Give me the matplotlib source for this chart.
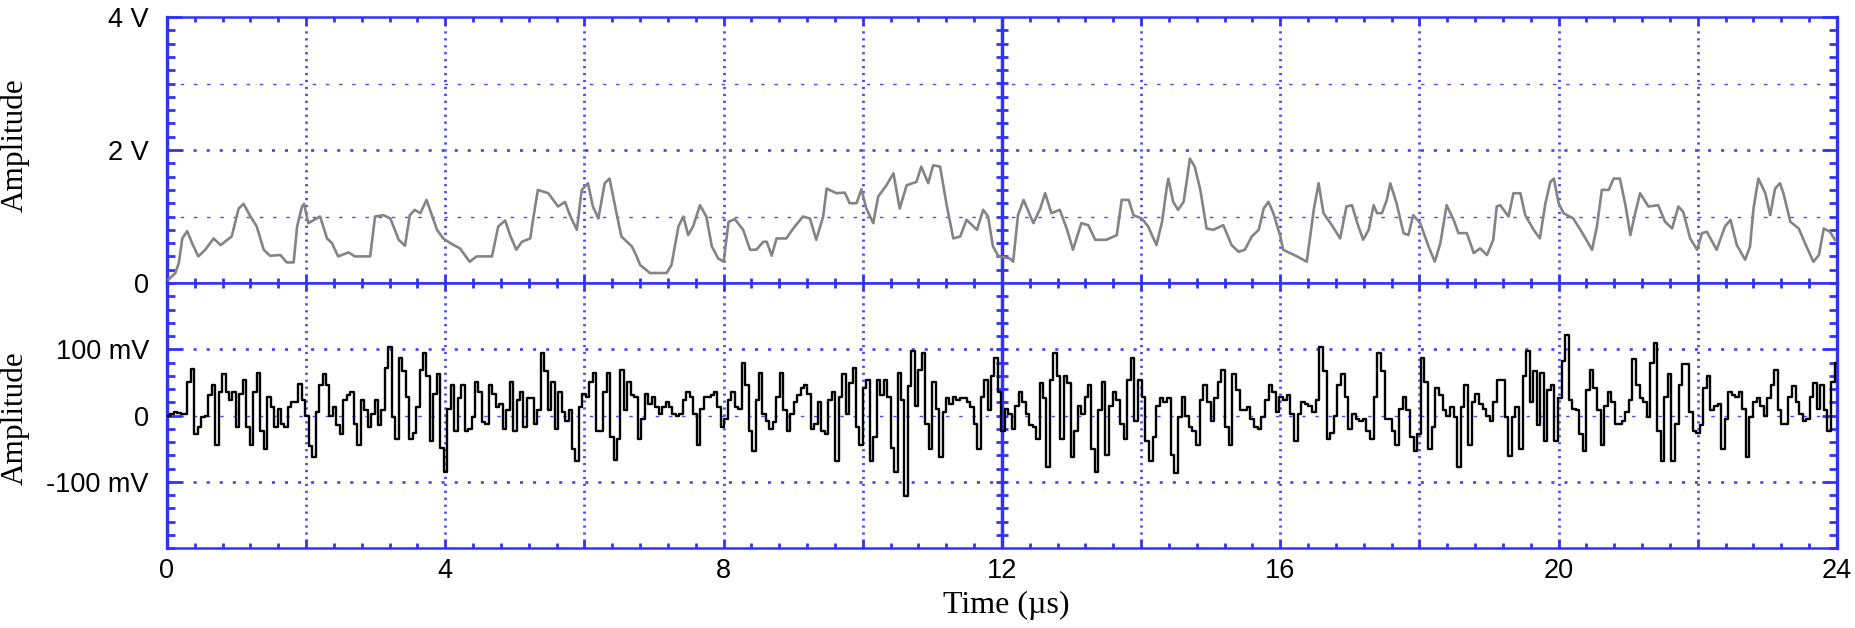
import numpy as np
import matplotlib.pyplot as plt
from matplotlib.ticker import FixedLocator, FixedFormatter, MultipleLocator, FuncFormatter

# ---- upper trace (V) ----
t_top = [0.02, 0.12, 0.17, 0.22, 0.29, 0.36, 0.45, 0.55, 0.67, 0.77, 0.93, 1.03, 1.10, 1.20, 1.29,
         1.39, 1.48, 1.63, 1.72, 1.82, 1.87, 1.94, 1.97, 2.03, 2.20, 2.30, 2.37, 2.46, 2.61, 2.70,
         2.92, 2.99, 3.11, 3.21, 3.33, 3.42, 3.49, 3.56, 3.64, 3.73, 3.88, 3.97, 4.07, 4.21, 4.35,
         4.45, 4.67, 4.76, 4.86, 4.93, 5.02, 5.10, 5.22, 5.26, 5.33, 5.48, 5.62, 5.72, 5.79, 5.89,
         5.96, 6.05, 6.12, 6.20, 6.29, 6.36,
         6.46, 6.53, 6.68, 6.75, 6.80, 6.94, 7.18, 7.25, 7.35, 7.42, 7.49, 7.56, 7.66, 7.75, 7.83,
         7.92, 8.00, 8.07, 8.16, 8.28, 8.38, 8.47, 8.57, 8.62, 8.69, 8.76, 8.90, 9.00, 9.14, 9.24,
         9.33, 9.43, 9.48, 9.62, 9.74, 9.81, 9.91, 9.98, 10.05, 10.15, 10.22, 10.34, 10.44, 10.53,
         10.63, 10.77, 10.84, 10.94, 11.01, 11.11, 11.20, 11.30, 11.40, 11.49, 11.64, 11.73, 11.80,
         11.87, 11.95, 12.11, 12.16, 12.23, 12.31, 12.45, 12.55, 12.62, 12.71, 12.83, 12.93, 13.02,
         13.14, 13.24, 13.34,
         13.50, 13.65, 13.72, 13.82, 13.89, 14.01, 14.10, 14.22, 14.30, 14.37, 14.39, 14.46, 14.53,
         14.61, 14.65, 14.70, 14.77, 14.85, 14.94, 15.04, 15.18, 15.30, 15.40, 15.49, 15.59, 15.69,
         15.76, 15.83, 15.90, 16.00, 16.04, 16.24, 16.38, 16.48, 16.55, 16.62, 16.74, 16.86, 16.95,
         17.03, 17.10, 17.19, 17.27, 17.34, 17.39, 17.46, 17.53, 17.58, 17.67, 17.77, 17.84, 17.91,
         18.01, 18.13, 18.22, 18.30, 18.39, 18.49, 18.56, 18.68, 18.78, 18.87, 18.97, 19.06, 19.11,
         19.16,
         19.28, 19.35, 19.45, 19.52, 19.64, 19.73, 19.81, 19.88, 19.93, 20.00, 20.07, 20.21, 20.33,
         20.48, 20.55, 20.62, 20.72, 20.79, 20.88, 20.96, 21.03, 21.10, 21.17, 21.29, 21.43, 21.53,
         21.63, 21.72, 21.79, 21.89, 21.99, 22.06, 22.13, 22.27, 22.39, 22.47, 22.56, 22.68, 22.75,
         22.80, 22.87, 22.97, 23.04, 23.11, 23.18, 23.23, 23.33, 23.45, 23.54, 23.66, 23.74, 23.81,
         23.90, 23.97]
v_top = [0.05, 0.15, 0.30, 0.67, 0.78, 0.60, 0.40, 0.50, 0.67, 0.57, 0.70, 1.12, 1.19, 1.00, 0.85,
         0.50, 0.41, 0.42, 0.31, 0.31, 0.85, 1.15, 1.19, 0.90, 1.00, 0.67, 0.60, 0.40, 0.46, 0.40,
         0.40, 1.00, 1.02, 0.97, 0.65, 0.56, 1.02, 1.10, 1.05, 1.25, 0.80, 0.67, 0.60, 0.52, 0.32,
         0.40, 0.40, 0.85, 0.94, 0.72, 0.50, 0.62, 0.67, 0.95, 1.40, 1.35, 1.15, 1.22, 1.02, 0.80,
         1.40, 1.50, 1.15, 0.97, 1.50, 1.57,
         1.05, 0.70, 0.55, 0.40, 0.27, 0.15, 0.15, 0.27, 0.85, 1.00, 0.72, 0.85, 1.17, 1.00, 0.55,
         0.37, 0.32, 0.92, 0.96, 0.80, 0.50, 0.50, 0.62, 0.62, 0.41, 0.67, 0.67, 0.82, 1.00, 0.97,
         0.65, 1.00, 1.42, 1.35, 1.36, 1.20, 1.20, 1.41, 1.12, 0.90, 1.30, 1.47, 1.65, 1.12,
         1.47, 1.52, 1.75, 1.50, 1.77, 1.75, 1.20, 0.67, 0.70, 0.95, 0.80, 1.10, 1.00,
         0.55, 0.40, 0.37, 0.32, 1.02, 1.25, 0.90, 1.12, 1.35, 1.05, 1.10, 0.82, 0.50,
         0.90, 0.87, 0.65,
         0.65, 0.72, 1.25, 1.25, 1.02, 0.97, 0.85, 0.57, 0.92, 1.45, 1.57, 1.22, 1.10,
         1.22, 1.50, 1.87, 1.75, 1.40, 0.82, 0.80, 0.87, 0.57, 0.47, 0.50, 0.70, 0.80,
         1.12, 1.22, 1.05, 0.70, 0.50, 0.40, 0.32, 1.10, 1.50, 1.05, 0.87, 0.67, 1.15,
         1.17, 0.92, 0.65, 0.80, 1.17, 1.05, 1.05, 1.25, 1.50, 1.20, 0.75, 0.72, 1.02,
         0.90, 0.55, 0.32, 0.60, 1.17, 0.95, 0.75, 0.75, 0.45, 0.52, 0.42, 0.65, 1.15,
         1.17,
         1.00, 1.35, 1.35, 1.02, 0.80, 0.67, 1.20, 1.52, 1.57, 1.20, 1.05, 0.97, 0.77,
         0.50, 0.85, 1.40, 1.40, 1.57, 1.57, 1.17, 0.72, 1.05, 1.35, 1.15, 1.17, 0.92,
         0.82, 1.15, 1.07, 0.67, 0.50, 0.75, 0.77, 0.50, 0.85, 0.95, 0.57, 0.35, 0.55,
         1.12, 1.57, 1.35, 1.02, 1.42, 1.50, 1.35, 0.92, 0.82, 0.60, 0.32, 0.42, 0.82,
         0.77, 0.65]

# ---- lower trace (mV): four stretches of evenly clocked samples ----
seg_span = [(0.02, 6.94), (6.99, 13.41), (13.46, 19.14), (19.20, 23.99)]
mv_1 = [0, 3, 5, 4, 2, 2, 51, 70, -28, -18, -3, 0, 31, 46, -44, 36, 62, 36, 23, 36, -18, 33, 54,
        -18, -44, 36, 64, -23, -51, 28, 13, -18, 10, -13, -18, 13, 21, 21, 48, 23, 0, -46, -62, 5,
        46, 62, 46, 0, 13, -15, -28, 23, 31, 36, -13, -44, 23, 8, -18, 3, 23, -15, 8, 72, 103, -3,
        -36, 87, 67, 28, -36, -26, 13, 69, 95, 59, -38, 33, 62, -49, -85, 10, 46, -23, 26, 46, -23,
        -21, -3, 51, 36, -10, -13, 46, 33, 13, 18, -21, 8, 51, -23, 23, 36, -18, 26, 26, -13, 8, 95,
        67, 8, 51, -21, 36, 5, -8, 8, -51, -69, 13, 33, 28, 51, 64, -23, -23, 36, 64, -33, -67, -36,
        69, 8, 51, 31, 28, -36, -5, 33, 18]
mv_2 = [28, 13, 3, 13, 21, 13, 3, 0, 3, 23, 36, 28, 3, -44, 10, 28, 28, 31, 36, 13, -18, -5, 23, 36,
        13, 10, 79, 46, -23, -54, 23, 64, 3, -8, -21, -10, 28, 64, 8, -23, 3, 21, 31, 41, 46, 33,
        -21, -13, 21, -23, -28, 23, 36, -69, 28, 62, 3, 49, 72, -18, -44, 41, 54, -69, -33, 54, 31,
        54, 28, -49, -85, 64, 23, -121, 44, 97, 15, 69, 95, -13, -51, 51, 10, -62, 5, 26, 18, 28,
        23, 26, 26, 21, 13, -13, -51, 28, 54, 8, 59, 87, 36, -23, 10, 3, -21, 15, 36, 21, 3, -15,
        -18, -36, 49, 26, -77, 54, 95, 59, -36, 59, 49, -62, -23, 15, 3, 28, 46, -51, -85, 8]
mv_3 = [51, -59, 15, 36, 23, -13, -36, 54, 87, -8, 54, 28, -38, -69, -33, 15, 26, 21, 26, -59, -87,
        -3, 28, 0, -18, -23, -44, 23, 46, 21, -8, 26, 51, 69, -18, -44, 62, 38, 8, 8, 13, -5, -18,
        -21, -3, 23, 46, 36, 5, 28, 23, 31, 3, -38, 3, 21, 18, 15, 5, 23, 103, 67, -36, -26, 0, 46,
        62, 28, -21, 3, -5, -8, -5, -23, -36, 28, 95, 67, -5, -5, -23, -44, 10, 28, 8, -33, -54,
        -28, 87, 51, -51, -18, 41, 31, 8, 0, 13, -3, -77, 13, 46, -44, 21, 33, 18, 10, 0, -8, 21, 54]
mv_4 = [54, -3, -61, -3, 13, -51, 59, 97, 21, 67, -15, 64, -38, 38, 46, -38, 26, 82, 121, 23, 10, 8,
        -28, -54, 38, 69, 41, 8, -44, 15, 36, 21, -13, -13, -8, 5, 23, 85, 46, 26, 21, -3, 79, 110,
        -23, -69, 28, 62, -69, -13, 46, 77, 77, 5, -23, -26, -15, 41, 59, 8, 15, 18, -51, -5, 36,
        31, 28, 36, 10, -62, -3, 21, 26, 15, 0, 26, 46, 69, 8, -13, -13, 28, 44, 21, 3, -8, -5, 28,
        49, 10, 46, 8, -23, 51, 79]

x_labels = {0: '0', 4: '4', 8: '8', 12: '12', 16: '16', 20: '20', 24: '24'}

BLUE = '#3232ff'
GRID = '#4a4aff'
SANS = 'Liberation Sans'
SERIF = 'Liberation Serif'

t_bot = np.concatenate([np.linspace(a, b, len(m)) for (a, b), m in
                        zip(seg_span, [mv_1, mv_2, mv_3, mv_4])])
v_bot = np.concatenate([mv_1, mv_2, mv_3, mv_4])

W, H = 1856, 628
L, R = 167, 1837
Y0, Y1, Y2 = 17, 283, 548

fig = plt.figure(figsize=(W / 100, H / 100), dpi=100)
ax1 = fig.add_axes([L / W, 1 - Y1 / H, (R - L) / W, (Y1 - Y0) / H])
ax2 = fig.add_axes([L / W, 1 - Y2 / H, (R - L) / W, (Y2 - Y1) / H])


def dress(ax, lo, hi, minor, major, labels, heavy, light):
    ax.set_xlim(0, 24)
    ax.set_ylim(lo, hi)
    for side, sp in ax.spines.items():
        sp.set_color(BLUE)
        sp.set_linewidth(2.4 if side in ('left', 'right') else 1.8)
    ax.xaxis.set_major_locator(MultipleLocator(2))
    ax.xaxis.set_minor_locator(MultipleLocator(0.4))
    ax.tick_params(axis='x', which='both', direction='in', top=True, bottom=True,
                   color=BLUE, width=2)
    ax.tick_params(axis='x', which='major', length=6)
    ax.tick_params(axis='x', which='minor', length=3.5)
    ax.yaxis.set_major_locator(FixedLocator(major))
    ax.yaxis.set_major_formatter(FixedFormatter(labels))
    ax.yaxis.set_minor_locator(MultipleLocator(minor))
    ax.tick_params(axis='y', which='both', direction='in', left=True, right=True,
                   color=BLUE, width=2, labelsize=19.5, pad=13)
    ax.tick_params(axis='y', which='major', length=11)
    ax.tick_params(axis='y', which='minor', length=6)
    for lab in ax.get_yticklabels():
        lab.set_family(SANS)

    # screen graticule
    for y in heavy:
        ax.axhline(y, color=GRID, lw=2, dashes=(1.1, 3.6), zorder=1)
    for y in light:
        ax.axhline(y, color=GRID, lw=1, dashes=(2.5, 7), zorder=1)
    for x in np.arange(2, 24, 2):
        if x != 12:
            ax.axvline(x, color=GRID, lw=2, dashes=(0.8, 1.7), zorder=1)
    ax.axvline(12, color=BLUE, lw=2.5, zorder=2)
    ys = np.arange(lo + minor, hi, minor)
    ax.plot(np.full(len(ys), 12.0), ys, ls='none', marker='_', ms=9, mew=2,
            color=BLUE, zorder=2, clip_on=False)


dress(ax1, 0, 4, 0.2, [0, 2, 4], ['0', '2 V', '4 V'], heavy=[2], light=[1, 3])
dress(ax2, -200, 200, 20, [-100, 0, 100], ['-100 mV', '0', '100 mV'],
      heavy=[-100, 100], light=[0])

ax1.tick_params(axis='x', labelbottom=False)
ax2.xaxis.set_major_formatter(FuncFormatter(lambda v, p: x_labels.get(int(round(v)), '')))
ax2.tick_params(axis='x', labelsize=19.5, pad=7)
for lab in ax2.get_xticklabels():
    lab.set_family(SANS)

ax1.plot(t_top, v_top, color='#848484', lw=1.9, zorder=3)
ax2.plot(t_bot, v_bot, color='black', lw=1.7, drawstyle='steps-mid', zorder=3)

fig.text(15 / W, 1 - 145 / H, 'Amplitude', rotation=90, ha='center', va='center',
         family=SERIF, size=22.5)
fig.text(15 / W, 1 - 418 / H, 'Amplitude', rotation=90, ha='center', va='center',
         family=SERIF, size=22.5)
fig.text(1006 / W, 1 - 605 / H, 'Time (µs)', ha='center', va='center', family=SERIF, size=23)

fig.savefig('out.png', dpi=100)
